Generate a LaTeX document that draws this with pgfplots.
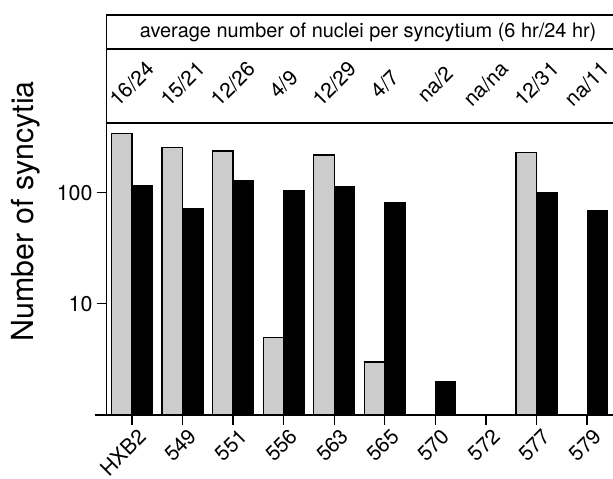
\documentclass[border=0pt]{standalone}
\usepackage{pgfplots}
\pgfplotsset{compat=1.18}
\usepackage{fontspec}
\setmainfont{TeX Gyre Heros}
\begin{document}
\begin{tikzpicture}
\begin{axis}[
  scale only axis,
  width=505.7bp, height=292bp,
  xmin=-0.5, xmax=9.5,
  ymode=log, ymin=1, ymax=423,
  axis x line*=bottom, axis y line*=left,
  axis line style={line width=1.5bp, black},
  xtick={0,...,9},
  xticklabels={HXB2,549,551,556,563,565,570,572,577,579},
  ytick={10,100}, yticklabels={10,100},
  yminorticks=false, xminorticks=false,
  tick align=outside,
  major tick length=10bp,
  tick style={line width=1.3bp, black},
  xticklabel style={yshift=-2.5bp, xshift=5bp, rotate=45, anchor=north east, inner sep=0pt, font=\fontsize{21}{21}\selectfont},
  yticklabel style={xshift=-4bp, font=\fontsize{21.5}{21.5}\selectfont, inner sep=0pt},
  ybar=0pt, bar width=20.5bp,
  clip=false,
  /pgf/number format/assume math mode=true,
]
\addplot[draw=black, line width=1.3bp, fill=black!20] coordinates {
  (0,342) (1,255) (2,237) (3,5) (4,218) (5,3) (8,229)
};
\addplot[draw=black, line width=1bp, fill=black] coordinates {
  (0,117) (1,72) (2,129) (3,105) (4,114) (5,81) (6,2) (8,100) (9,69)
};
% frame lines
\draw[line width=1.5bp] (rel axis cs:0,1) -- ([xshift=1bp]rel axis cs:1,1);
\draw[line width=1.5bp] ([yshift=74bp]rel axis cs:0,1) -- ([xshift=1bp,yshift=74bp]rel axis cs:1,1);
\draw[line width=1.5bp] ([yshift=108bp]rel axis cs:0,1) -- ([xshift=1bp,yshift=108bp]rel axis cs:1,1);
\draw[line width=1.5bp] (rel axis cs:0,0) -- ([yshift=108.75bp]rel axis cs:0,1);
\draw[line width=1.5bp] ([xshift=-12bp]rel axis cs:0,0) -- ([xshift=1bp]rel axis cs:1,0);
\node[font=\fontsize{20}{20}\selectfont] at ([yshift=91bp]rel axis cs:0.517,1) {average number of nuclei per syncytium (6 hr/24 hr)};
\node[rotate=90, font=\fontsize{30.5}{30.5}\selectfont] at ([xshift=-81bp]rel axis cs:0,0.698) {Number of syncytia};
\node[yshift=39bp, rotate=45, font=\fontsize{21}{21}\selectfont] at (rel axis cs:0.05,1) {16/24};
\node[yshift=39bp, rotate=45, font=\fontsize{21}{21}\selectfont] at (rel axis cs:0.15,1) {15/21};
\node[yshift=39bp, rotate=45, font=\fontsize{21}{21}\selectfont] at (rel axis cs:0.25,1) {12/26};
\node[yshift=39bp, rotate=45, font=\fontsize{21}{21}\selectfont] at (rel axis cs:0.35,1) {4/9};
\node[yshift=39bp, rotate=45, font=\fontsize{21}{21}\selectfont] at (rel axis cs:0.45,1) {12/29};
\node[yshift=39bp, rotate=45, font=\fontsize{21}{21}\selectfont] at (rel axis cs:0.55,1) {4/7};
\node[yshift=39bp, rotate=45, font=\fontsize{21}{21}\selectfont] at (rel axis cs:0.65,1) {na/2};
\node[yshift=39bp, rotate=45, font=\fontsize{21}{21}\selectfont] at (rel axis cs:0.75,1) {na/na};
\node[yshift=39bp, rotate=45, font=\fontsize{21}{21}\selectfont] at (rel axis cs:0.85,1) {12/31};
\node[yshift=39bp, rotate=45, font=\fontsize{21}{21}\selectfont] at (rel axis cs:0.95,1) {na/11};
\coordinate (ll) at (rel axis cs:0,0);
\coordinate (ur) at (rel axis cs:1,1);
\end{axis}
\pgfresetboundingbox
\path[use as bounding box] ([xshift=-106.7bp,yshift=-64bp]ll) rectangle ([xshift=0.6bp,yshift=123bp]ur);
\end{tikzpicture}
\end{document}
